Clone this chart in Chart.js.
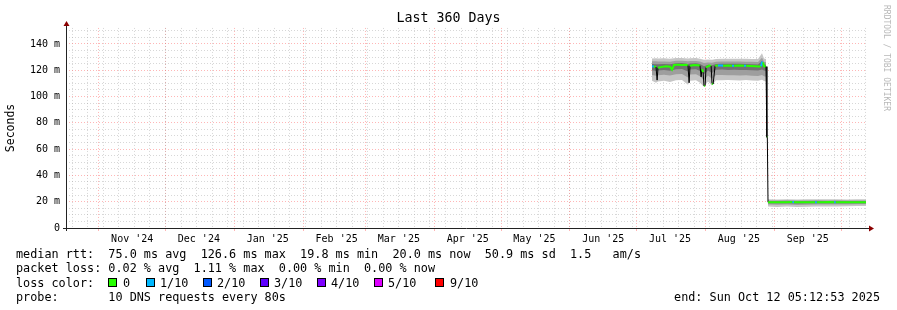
<!DOCTYPE html>
<html><head><meta charset="utf-8">
<script src="https://cdn.jsdelivr.net/npm/chart.js@4.4.1/dist/chart.umd.min.js"></script>
<style>
html,body{margin:0;padding:0;background:#fff;}
#wrap{position:relative;width:897px;height:310px;overflow:hidden;background:#fff;}
canvas{position:absolute;left:0;top:0;}
.t{position:absolute;font-family:"DejaVu Sans Mono",monospace;font-size:11.8px;line-height:14px;white-space:pre;color:#000;}
.box{position:absolute;width:7px;height:7px;border:1px solid #000;}
</style></head><body>
<div id="wrap">
<canvas id="c" width="897" height="310"></canvas>
<div class="t" style="left:16px;top:246.5px">median rtt:  75.0 ms avg  126.6 ms max  19.8 ms min  20.0 ms now  50.9 ms sd  1.5   am/s</div>
<div class="t" style="left:16px;top:261px">packet loss: 0.02 % avg  1.11 % max  0.00 % min  0.00 % now</div>
<div class="t" style="left:16px;top:275.5px">loss color:</div>
<div id="lossLegend"></div>
<div class="t" style="left:16px;top:290px">probe:       10 DNS requests every 80s</div>
<div class="t" style="right:17px;top:290px">end: Sun Oct 12 05:12:53 2025</div>
</div>
<script>
// ---------- DATA ----------
// time axis: days since graph start (end minus 360 days)
const medianDays = [263.7,264.6,265.5,266.0,266.4,268.2,270.0,271.8,272.7,273.6,275.4,277.2,279.0,279.9,280.4,280.8,282.6,284.4,285.3,285.8,286.2,286.7,287.1,287.6,288.0,289.4,290.3,290.7,291.2,292.1,293.4,295.2,295.7,297.9,299.7,300.6,303.3,305.1,306.0,307.8,310.1,311.9,312.8,313.2,313.7,314.1,315.0,315.4,315.6,315.9,318.0,321.0,324.0,326.9,327.6,330.5,334.0,337.1,337.9,341.0,343.5,345.7,346.4,349.5,352.5,355.5,358.0,360.0];
const medianMs   = [122.8,123.0,122.5,112.5,122.0,122.6,123.0,122.8,120.5,124.0,124.3,124.1,124.2,123.6,110.5,123.4,124.0,123.8,123.5,115.0,121.0,118.5,108.0,108.3,122.2,123.6,123.2,110.0,109.5,123.4,123.6,123.6,123.5,123.6,123.5,123.5,123.6,123.5,123.4,123.3,123.1,122.8,123.0,126.0,126.0,123.0,122.8,69.0,69.0,19.6,19.6,19.5,19.6,19.7,19.6,19.6,19.5,19.6,19.6,19.6,19.7,19.6,19.6,19.5,19.6,19.6,19.5,19.6];
const lossCount  = [1,0,0,0,0,0,0,0,0,0,0,0,0,0,0,0,0,0,0,0,0,0,0,0,0,0,0,0,0,0,1,1,0,0,1,0,0,1,0,0,0,0,1,1,0,0,0,0,0,0,0,0,0,1,0,0,0,1,0,0,0,1,0,0,0,0,0,0];

const smokeDays = [263.7,265.5,266.4,269.1,271.8,274.5,277.2,279.9,280.8,283.5,285.3,287.1,288.9,290.7,292.5,295.2,297.9,300.6,303.3,306.0,308.7,311.4,313.2,314.1,315.0,315.4,315.9,320.0,324.5,329.0,333.5,338.0,342.5,347.0,351.5,356.0,360.0];
const smokeHi1 = [129.0,129.2,129.0,129.1,128.8,129.4,129.4,129.0,129.2,129.3,128.8,128.0,128.2,128.0,128.6,128.8,128.8,128.7,128.8,128.7,128.6,128.5,133.0,129.0,128.5,null,21.8,21.7,21.8,21.7,21.8,21.9,21.8,21.9,21.7,21.8,21.8];
const smokeHi2 = [126.8,126.8,126.6,126.7,126.5,127.2,127.3,126.8,127.0,127.1,126.6,125.5,126.0,125.8,126.5,126.7,126.6,126.6,126.7,126.5,126.4,126.3,129.5,126.5,126.2,null,21.0,21.0,21.1,20.9,21.0,21.1,21.0,21.1,21.0,21.0,21.0];
const smokeHi3 = [124.8,124.6,124.5,124.7,124.5,125.4,125.5,124.8,125.2,125.3,124.8,123.0,124.2,123.8,124.8,125.0,124.9,124.9,125.0,124.8,124.6,124.4,127.0,124.5,124.3,null,20.3,20.3,20.3,20.2,20.3,20.4,20.3,20.4,20.3,20.3,20.3];
const smokeLo3 = [120.0,119.5,119.8,120.2,119.6,120.8,121.0,119.0,120.5,120.8,119.5,117.0,119.8,118.0,120.4,120.5,120.3,120.4,120.2,120.3,120.0,119.8,120.5,119.8,119.5,null,18.9,18.8,18.9,18.7,18.8,18.9,18.8,18.9,18.9,18.9,18.9];
const smokeLo2 = [116.5,115.8,116.3,116.6,116.0,117.0,117.2,114.5,116.8,117.0,115.5,112.5,116.0,113.5,116.5,116.4,116.2,116.3,116.0,116.2,115.8,115.6,116.5,115.5,115.0,null,17.9,17.6,17.9,17.5,17.7,17.8,17.8,17.8,17.9,18.0,18.0];
const smokeLo1 = [112.0,110.5,111.5,112.0,111.0,112.4,112.6,109.0,112.0,112.5,110.5,107.5,111.5,108.5,112.5,112.4,112.6,112.5,112.3,112.6,112.2,112.0,112.8,111.8,111.5,null,16.4,16.0,16.3,15.9,16.1,16.3,16.4,16.4,16.6,16.8,16.8];

const monthStarts     = ['2024-11-01','2024-12-01','2025-01-01','2025-02-01','2025-03-01','2025-04-01','2025-05-01','2025-06-01','2025-07-01','2025-08-01','2025-09-01','2025-10-01'];
const monthLabelDates = ['2024-11-16','2024-12-16','2025-01-16','2025-02-16','2025-03-16','2025-04-16','2025-05-16','2025-06-16','2025-07-16','2025-08-16','2025-09-16'];
const monthTickLabels = ["Nov '24","Dec '24","Jan '25","Feb '25","Mar '25","Apr '25","May '25","Jun '25","Jul '25","Aug '25","Sep '25"];
const firstWeekDate = '2024-10-20';
const yMajorStep = 20, yMinorStep = 5, yMax = 152.2, xSpanDays = 360;

const lossColors = ['#26ff00','#00b8ff','#0059ff','#5e00ff','#7e00ff','#dd00ff','#ff0000'];
const lossLegendLabels = ['0','1/10','2/10','3/10','4/10','5/10','9/10'];

// ---------- helpers ----------
const END = Date.UTC(2025,9,12,5,12,53);
const START = END - xSpanDays*864e5;
const dayOf = s => (Date.parse(s+'T00:00:00Z') - START)/864e5;
const zip = (xs, ys) => xs.map((x,i) => ({x:x, y:ys[i]}));
const lossColor = n => n <= 5 ? lossColors[n] : lossColors[6];

// legend boxes
const boxLeft = [108,146,203,260,317,374,435];
const textLeft = [123,160,217,274,331,388,450];
const ll = document.getElementById('lossLegend');
lossLegendLabels.forEach((lab,i) => {
  const b = document.createElement('div'); b.className='box';
  b.style.left = boxLeft[i]+'px'; b.style.top='278px'; b.style.background = lossColors[i];
  ll.appendChild(b);
  const t = document.createElement('div'); t.className='t';
  t.style.left = textLeft[i]+'px'; t.style.top='275.5px'; t.textContent = lab;
  ll.appendChild(t);
});

// x ticks
function buildXTicks(){
  const ticks = [];
  for (let d = dayOf(firstWeekDate); d < xSpanDays; d += 7) ticks.push({value:d, kind:'week'});
  monthStarts.forEach(s => { const d = dayOf(s); if (d>0 && d<xSpanDays) ticks.push({value:d, kind:'month'}); });
  monthLabelDates.forEach((s,i) => { const d = dayOf(s); if (d>0 && d<xSpanDays) ticks.push({value:d, kind:'label', text:monthTickLabels[i]}); });
  ticks.sort((a,b)=>a.value-b.value);
  return ticks;
}

const GRAY = 'rgba(160,160,160,0.42)';
const RED = 'rgba(255,110,110,0.5)';

const decor = {
  id:'decor',
  afterDraw(chart){
    const {ctx, chartArea:a} = chart;
    ctx.save();
    ctx.strokeStyle = '#222'; ctx.lineWidth = 1;
    ctx.beginPath();
    ctx.moveTo(a.left+0.5, a.bottom+3); ctx.lineTo(a.left+0.5, a.top-4);
    ctx.moveTo(a.left-3, a.bottom+0.5); ctx.lineTo(a.right+4, a.bottom+0.5);
    ctx.stroke();
    ctx.fillStyle = '#8b0000';
    ctx.beginPath();
    ctx.moveTo(a.left+0.5, a.top-7); ctx.lineTo(a.left-2.5, a.top-2); ctx.lineTo(a.left+3.5, a.top-2); ctx.closePath(); ctx.fill();
    ctx.beginPath();
    ctx.moveTo(a.right+8, a.bottom+0.5); ctx.lineTo(a.right+3, a.bottom-2.5); ctx.lineTo(a.right+3, a.bottom+3.5); ctx.closePath(); ctx.fill();
    // watermark
    ctx.translate(886, 5); ctx.rotate(Math.PI/2);
    ctx.fillStyle = '#b8b8b8'; ctx.font = '8px "DejaVu Sans Mono"'; ctx.textBaseline='middle'; ctx.textAlign='left';
    ctx.fillText('RRDTOOL / TOBI OETIKER', 0, 0);
    ctx.restore();
  }
};

const smokeDs = (data, color, target, ord) => ({
  data: zip(smokeDays, data), borderWidth:0, pointRadius:0, backgroundColor: color,
  fill: target === null ? false : {target: target}, order: ord, spanGaps:false, tension:0
});

new Chart(document.getElementById('c'), {
  type:'line',
  data:{ datasets:[
    { data: zip(medianDays, medianMs), pointRadius:0, borderWidth:2, tension:0, fill:false, order:0,
      borderColor:'#26ff00',
      segment:{
        borderColor: c => Math.abs(c.p1.parsed.y - c.p0.parsed.y) > 4 ? '#000' : lossColor(lossCount[c.p0DataIndex]),
        borderWidth: c => Math.abs(c.p1.parsed.y - c.p0.parsed.y) > 4 ? 1 : 2
      }},
    smokeDs(smokeLo3, 'rgba(0,0,0,0)', null, 1),
    smokeDs(smokeHi3, '#727272', 1, 2),
    smokeDs(smokeLo2, 'rgba(0,0,0,0)', null, 3),
    smokeDs(smokeHi2, '#9e9e9e', 3, 4),
    smokeDs(smokeLo1, 'rgba(0,0,0,0)', null, 5),
    smokeDs(smokeHi1, '#c6c6c6', 5, 6)
  ]},
  options:{
    responsive:false, animation:false, events:[],
    layout:{padding:{left:0,right:0,top:0,bottom:0}},
    plugins:{
      legend:{display:false}, tooltip:{enabled:false},
      title:{display:true, text:'Last 360 Days', color:'#000',
        font:{family:'DejaVu Sans Mono', size:13.3, weight:'normal'}, padding:{top:11,bottom:1}}
    },
    scales:{
      x:{ type:'linear', min:0, max:xSpanDays,
        afterBuildTicks: s => { s.ticks = buildXTicks(); },
        afterFit: s => { s.height = 82; },
        border:{display:false, dash:[1,2]},
        grid:{ color: c => c.tick && c.tick.kind==='month' ? RED : (c.tick && c.tick.kind==='week' ? GRAY : 'rgba(0,0,0,0)'),
               tickColor: c => c.tick && c.tick.kind==='month' ? RED : 'rgba(0,0,0,0)',
               drawTicks:true, tickLength:3, lineWidth:1 },
        ticks:{ autoSkip:false, maxRotation:0, minRotation:0, padding:2, color:'#000',
          font:{family:'DejaVu Sans Mono', size:10},
          callback: function(v, i, ticks){ return ticks[i].kind==='label' ? ticks[i].text : ''; } }
      },
      y:{ type:'linear', min:0, max:yMax,
        afterBuildTicks: s => { const t=[]; for(let v=0; v<=yMax; v+=yMinorStep) t.push({value:v}); s.ticks=t; },
        afterFit: s => { s.width = 66; },
        border:{display:false, dash:[1,2]},
        grid:{ color: c => c.tick && c.tick.value % yMajorStep === 0 ? RED : GRAY, drawTicks:false, lineWidth:1 },
        ticks:{ autoSkip:false, padding:6, color:'#000', font:{family:'DejaVu Sans Mono', size:10},
          callback: v => v % yMajorStep === 0 ? (v === 0 ? '0' : v + ' m') : '' },
        title:{ display:true, text:'Seconds', color:'#000', font:{family:'DejaVu Sans Mono', size:11.5}, padding:{top:4,bottom:0} }
      },
      yR:{ type:'linear', position:'right', min:0, max:yMax,
        afterFit: s => { s.width = 31; },
        border:{display:false}, grid:{drawOnChartArea:false, drawTicks:false},
        ticks:{display:false}
      }
    }
  },
  plugins:[decor]
});
</script>
</body></html>
